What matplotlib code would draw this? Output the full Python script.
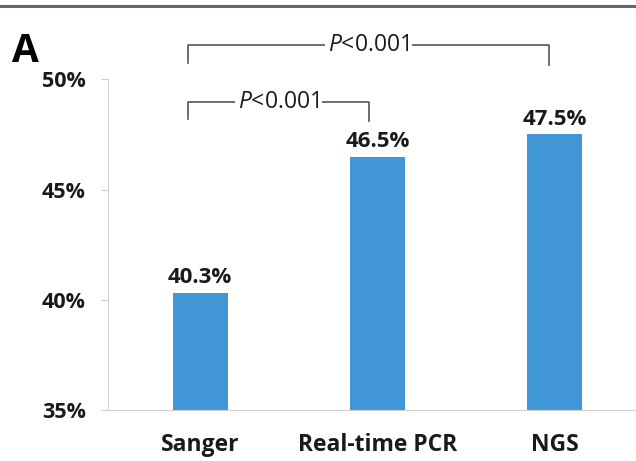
import matplotlib
matplotlib.use("Agg")
import matplotlib.pyplot as plt
from matplotlib.lines import Line2D

plt.rcParams['font.family'] = ['Open Sans', 'DejaVu Sans']
plt.rcParams['mathtext.fontset'] = 'custom'
plt.rcParams['mathtext.it'] = 'Open Sans:italic'
plt.rcParams['mathtext.rm'] = 'Open Sans'

methods = ['Sanger', 'Real-time PCR', 'NGS']
rates = [40.3, 46.5, 47.5]
yticks = [35, 40, 45, 50]
ytick_labels = ['35%', '40%', '45%', '50%']
# pairs compared: (left bar, right bar, label)
comparisons = [(0, 1, 'P<0.001'), (0, 2, 'P<0.001')]

fig = plt.figure(figsize=(6.36, 4.61), dpi=100)
ax = fig.add_axes([0.170, 0.110, 0.830, 0.718])

x = range(len(methods))
bars = ax.bar(x, rates, width=0.31, color='#4196D6', zorder=2)
ax.set_ylim(35, 50)
ax.set_xlim(-0.52, 2.46)

ax.set_yticks(yticks)
ax.set_yticklabels(ytick_labels, fontsize=15.5, fontweight='bold', color='#1a1a1a')
ax.set_xticks(list(x))
ax.set_xticklabels(methods, fontsize=16.5, fontweight='bold', color='#1a1a1a')
ax.tick_params(axis='y', length=5, color='#d0d0d0', pad=11)
ax.tick_params(axis='x', length=0, pad=16)

for s in ['top', 'right']:
    ax.spines[s].set_visible(False)
ax.spines['left'].set_color('#d0d0d0')
ax.spines['bottom'].set_color('#d0d0d0')

for b, v in zip(bars, rates):
    ax.text(b.get_x() + b.get_width() / 2, v + 0.45, f'{v:.1f}%',
            ha='center', va='baseline', fontsize=16, fontweight='bold', color='#1a1a1a')

# significance brackets (drawn above the axes area too)
bracket_y = [48.96, 51.54]
leg = [0.75, 0.8]
for (i, j, lab), yb, lg in zip(comparisons, bracket_y, leg):
    xl = i - 0.068
    xr = j - 0.03 if j == 2 else j - 0.045
    ax.plot([xl, xl, xr, xr], [yb - lg, yb, yb, yb - lg - 0.1], color='#555555',
            lw=1.2, clip_on=False, zorder=3)
    xm = (xl + xr) / 2 if j == 2 else xl + 0.51
    ax.text(xm, yb, '$\\mathit{P}$<0.001', ha='center', va='center', fontsize=16.5,
            color='#1a1a1a', zorder=4,
            bbox=dict(boxstyle='square,pad=0.12', fc='white', ec='none'), clip_on=False)

fig.text(0.019, 1 - 62 / 461, 'A', fontsize=28, fontweight='bold', color='black', va='baseline')
fig.add_artist(Line2D([0, 1], [1 - 6 / 461, 1 - 6 / 461], color='#666666', lw=2.2))

fig.savefig('out.png', dpi=100)
